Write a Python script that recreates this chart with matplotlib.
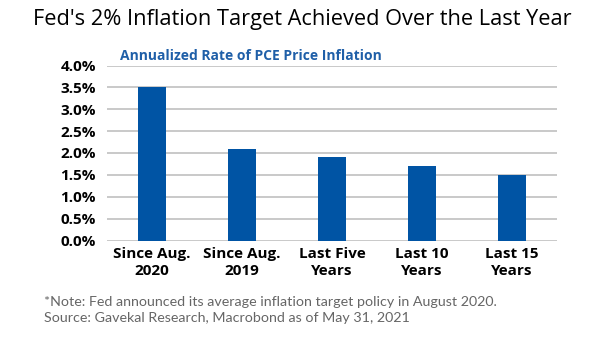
import matplotlib.pyplot as plt

categories = ['Since Aug.\n2020', 'Since Aug.\n2019', 'Last Five\nYears', 'Last 10\nYears', 'Last 15\nYears']
inflation = [3.5, 2.1, 1.9, 1.7, 1.5]
yticks = [0.0, 0.5, 1.0, 1.5, 2.0, 2.5, 3.0, 3.5, 4.0]

plt.rcParams['font.family'] = ['Open Sans', 'DejaVu Sans']

fig = plt.figure(figsize=(6.05, 3.41), dpi=100)
ax = fig.add_axes([107 / 605, 1 - 240.5 / 341, 450 / 605, 175 / 341])

ax.bar(range(len(categories)), inflation, width=0.31, color='#0054a4', zorder=3)
ax.set_xlim(-0.5, len(categories) - 0.5)
ax.set_ylim(0, 4.0)
ax.set_yticks(yticks)
ax.set_yticklabels([f'{v:.1f}%' for v in yticks], fontsize=11, fontweight='bold')
ax.set_xticks(range(len(categories)))
ax.set_xticklabels(categories, fontsize=11, fontweight='bold', linespacing=1.2)
ax.tick_params(axis='y', length=0, pad=8)
ax.tick_params(axis='x', length=0, pad=5)
ax.grid(axis='y', color='#c0c0c0', linewidth=1.2, zorder=0)
for s in ax.spines.values():
    s.set_visible(False)

fig.text(0.5, 1 - 19 / 341, "Fed's 2% Inflation Target Achieved Over the Last Year",
         ha='center', va='center', fontsize=15.7)
fig.text(120 / 605, 1 - 56 / 341, 'Annualized Rate of PCE Price Inflation',
         ha='left', va='center', fontsize=10, fontweight='bold', color='#1f5fa8')
fig.text(44 / 605, 1 - 310 / 341,
         '*Note: Fed announced its average inflation target policy in August 2020.\n'
         'Source: Gavekal Research, Macrobond as of May 31, 2021',
         ha='left', va='center', fontsize=10.3, color='#666666', linespacing=1.45,
         family=['Lato', 'DejaVu Sans'])

fig.savefig('out.png', dpi=100)
